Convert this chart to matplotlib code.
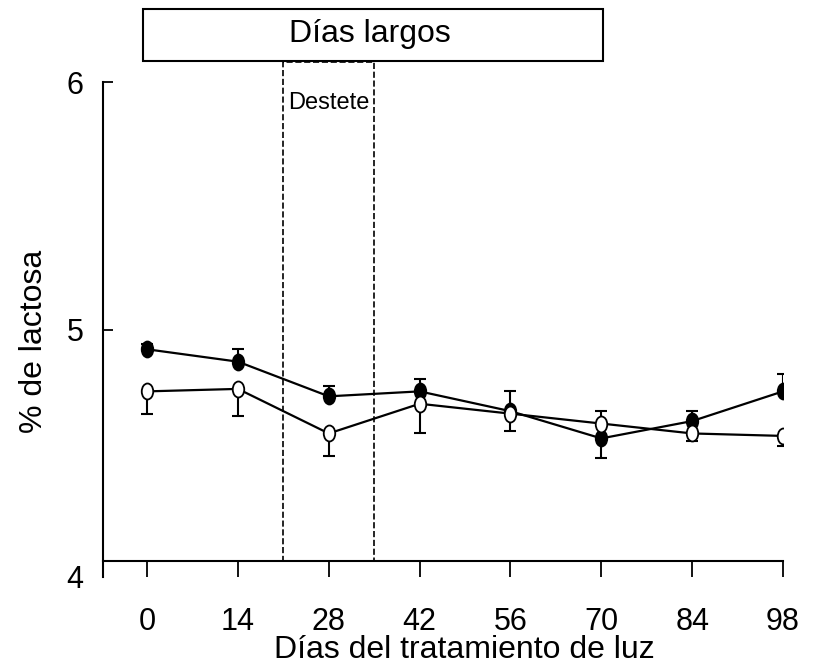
import numpy as np
import matplotlib
matplotlib.use("Agg")
from matplotlib import pyplot as plt
from matplotlib.patches import Rectangle
from matplotlib.path import Path
from matplotlib.transforms import Affine2D

plt.rcParams['font.family'] = ['Liberation Sans', 'DejaVu Sans']

# datos
dias = [0, 14, 28, 42, 56, 70, 84, 98]
lleno = [4.92, 4.87, 4.73, 4.75, 4.67, 4.56, 4.63, 4.75]
lleno_ee = [0.02, 0.05, 0.04, 0.05, 0.08, 0.08, 0.04, 0.07]
vacio = [4.75, 4.76, 4.58, 4.70, 4.66, 4.62, 4.58, 4.57]
vacio_ee = [0.09, 0.11, 0.09, 0.12, 0.07, 0.05, 0.03, 0.04]

destete = (21, 35)
dias_largos = (-0.6, 70.3)

# marcador eliptico (mas alto que ancho)
elipse = Path.unit_circle().transformed(Affine2D().scale(0.72, 1.0))

fig = plt.figure(figsize=(8.2, 6.67), dpi=100)
ax = fig.add_axes([103/820, 1-577/667, (783-103)/820, (577-82)/667])

x = np.array(dias)
yl = np.array(lleno); el = np.array(lleno_ee)
yv = np.array(vacio); ev = np.array(vacio_ee)
arriba = yl >= yv
# la serie de arriba muestra el error hacia arriba, la de abajo hacia abajo
err_l = [np.where(arriba, 0, el), np.where(arriba, el, 0)]
err_v = [np.where(arriba, ev, 0), np.where(arriba, 0, ev)]

ax.errorbar(x, yl, yerr=err_l, fmt='none', ecolor='k', elinewidth=1.5,
            capsize=4.5, capthick=1.5, zorder=2)
ax.errorbar(x, yv, yerr=err_v, fmt='none', ecolor='k', elinewidth=1.5,
            capsize=4.5, capthick=1.5, zorder=2)
ax.plot(x, yl, '-', color='k', lw=1.6, marker=elipse, ms=11.5,
        mfc='k', mec='k', mew=1.3, zorder=3)
ax.plot(x, yv, '-', color='k', lw=1.6, marker=elipse, ms=11.5,
        mfc='white', mec='k', mew=1.3, zorder=4)

ax.set_xlim(-6.8, 98)
ax.set_ylim(4, 6)

# caja del destete
ax.add_patch(Rectangle((destete[0], 4.065), destete[1]-destete[0], 6.081-4.065,
                       fill=False, ls='--', lw=1.2, ec='k', clip_on=False))
ax.text(destete[0]+0.7, 5.915, 'Destete', fontsize=17, ha='left', va='center')

# caja de dias largos
ax.add_patch(Rectangle((dias_largos[0], 6.085), dias_largos[1]-dias_largos[0], 0.21,
                       fill=True, fc='white', lw=1.5, ec='k', clip_on=False))
ax.text(sum(dias_largos)/2 - 0.5, 6.195, 'Días largos', fontsize=23, ha='center', va='center')

ax.spines['top'].set_visible(False)
ax.spines['right'].set_visible(False)
ax.spines['bottom'].set_position(('data', 4.065))
ax.spines['left'].set_linewidth(1.5)
ax.spines['bottom'].set_linewidth(1.5)

ax.set_xticks(dias)
ax.set_yticks([4, 5, 6])
ax.tick_params(axis='x', direction='out', length=11.5, width=1.3, pad=22, labelsize=22)
ax.tick_params(axis='y', direction='in', length=7, width=1.3, pad=14, labelsize=22)
ax.yaxis.get_major_ticks()[0].tick1line.set_visible(False)

ax.set_xlabel('Días del tratamiento de luz', fontsize=23)
ax.xaxis.set_label_coords(0.532, -0.117)
ax.set_ylabel('% de lactosa', fontsize=23)
ax.yaxis.set_label_coords(-0.08, 0.477)

fig.savefig('out.png', dpi=100)
